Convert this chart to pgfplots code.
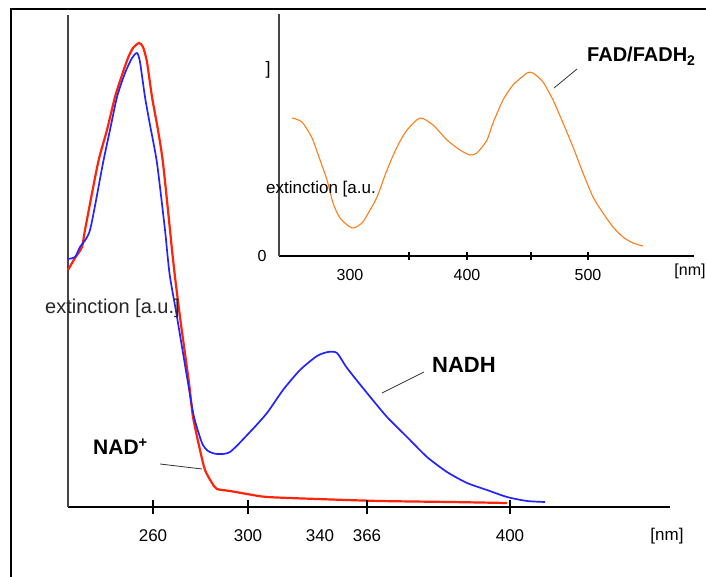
\documentclass[border=0pt]{standalone}
\usepackage{pgfplots}
\pgfplotsset{compat=1.18}
\usepackage{fontspec}
\setmainfont{Liberation Sans}
\definecolor{nadred}{RGB}{255,35,10}
\definecolor{nadhblue}{RGB}{35,35,255}
\definecolor{fadorange}{RGB}{255,125,25}
\definecolor{axgray}{RGB}{70,70,70}

% positions in pixels (x from the y axis, y up from the x axis)
\pgfplotstableread{
x   y
0   237
7   249
14  260
17  277
30  344
39  377
47  410
54  432
60  449
65  459
71  464
75  460
79  445
84  410
90  377
95  344
102 277
104 257
107 230
112 190
121 124
125 90
132 57
137 37
144 24
149 18
162 16
179 13
199 10
249 8
312 6
382 5
439 4
}\nadplus

\pgfplotstableread{
x   y
0   248
7   250
12  260
22  277
35  344
42  377
49  410
57  434
64  449
69  454
72  445
77  410
82  382
89  344
97  277
99  257
102 230
109 190
120 124
126 90
134 64
140 56
149 53
162 55
182 75
199 94
215 117
232 137
249 151
260 155
269 154
279 139
299 114
319 90
339 70
359 50
379 35
399 24
419 17
439 10
459 6
477 5
}\nadh

\pgfplotstableread{
x   y
13  138
23  134
33  118
41  96
48  76
54  53
61  38
73  28
83  33
91  46
98  59
108 86
118 109
128 126
141 138
154 131
168 116
181 106
191 101
198 103
208 116
214 133
224 156
234 171
248 183
254 183
264 174
274 156
284 133
294 109
304 83
314 59
324 43
334 29
344 19
354 13
364 10
}\fad

\begin{document}
\begin{tikzpicture}
\useasboundingbox (0,0) rectangle (706pt,577pt);
\draw[line width=1.3pt] (11pt,0pt) -- (11pt,568pt) -- (706pt,568pt);

% main chart
\begin{axis}[
    at={(68pt,70pt)}, anchor=south west,
    scale only axis, width=602pt, height=492pt,
    xmin=0, xmax=602, ymin=0, ymax=492,
    axis x line*=bottom, axis y line*=left,
    x axis line style={line width=2.2pt, black},
    y axis line style={line width=1.2pt, axgray},
    ytick=\empty,
    xtick={85,180,252,299,442},
    xticklabels={260,300,340,366,400},
    major tick length=0pt,
    xticklabel style={font=\fontsize{17}{20}\selectfont, anchor=base, yshift=-35pt},
    /pgf/number format/assume math mode=true,
    clip=false,
]
\addplot[nadred, line width=2.2pt, smooth, tension=0.4] table {\nadplus};
\addplot[nadhblue, line width=1.7pt, smooth, tension=0.4] table {\nadh};
\end{axis}

% inset
\begin{axis}[
    at={(279pt,321pt)}, anchor=south west,
    scale only axis, width=415pt, height=242pt,
    xmin=0, xmax=415, ymin=0, ymax=242,
    axis x line*=bottom, axis y line*=left,
    x axis line style={line width=1.8pt, black},
    y axis line style={line width=1.2pt, axgray},
    ytick=\empty,
    xtick={71,188,309},
    xticklabels={300,400,500},
    major tick length=0pt,
    xticklabel style={font=\fontsize{16}{19}\selectfont, anchor=base, yshift=-25pt},
    /pgf/number format/assume math mode=true,
    clip=false,
]
\addplot[fadorange, line width=1.1pt, smooth, tension=0.4] table {\fad};
\end{axis}

% tick marks crossing the axes (the reference has none under 340 and 300)
\foreach \t in {153,248,367,510}
  \draw[black, line width=1.4pt] (\t pt,63pt) -- (\t pt,77pt);
\foreach \t in {409,467,531,588}
  \draw[black, line width=1.2pt] (\t pt,317pt) -- (\t pt,325pt);

% labels and leader lines
\node[anchor=base west, inner sep=0pt, text=black!85, font=\fontsize{20}{24}\selectfont] at (45pt,263pt) {extinction [a.u.]};
\node[anchor=base, inner sep=0pt, font=\fontsize{17}{20}\selectfont] at (667pt,36pt) {[nm]};
\node[anchor=base, inner sep=0pt, font=\bfseries\fontsize{22}{26}\selectfont] at (464pt,204pt) {NADH};
\node[anchor=base west, inner sep=0pt, font=\bfseries\fontsize{21}{25}\selectfont] at (93pt,122pt) {NAD\textsuperscript{+}};
\draw[black!80, line width=0.8pt] (160pt,113pt) -- (202pt,108pt);
\draw[black!80, line width=0.8pt] (382pt,184pt) -- (424pt,205pt);
\draw[black!80, line width=0.8pt] (554pt,489pt) -- (577pt,508pt);
\node[anchor=base west, inner sep=0pt, font=\bfseries\fontsize{20}{24}\selectfont] at (587pt,515pt) {FAD/FADH\textsubscript{2}};
\node[anchor=base west, inner sep=0pt, font=\fontsize{17}{20}\selectfont] at (266pt,383pt) {extinction [a.u.};
\node[anchor=base, inner sep=0pt, font=\fontsize{16}{19}\selectfont] at (262pt,315pt) {0};
\node[anchor=base, inner sep=0pt, font=\fontsize{18}{21}\selectfont] at (268pt,502pt) {]};
\node[anchor=base, inner sep=0pt, font=\fontsize{16}{19}\selectfont] at (690pt,301pt) {[nm]};
\end{tikzpicture}
\end{document}
